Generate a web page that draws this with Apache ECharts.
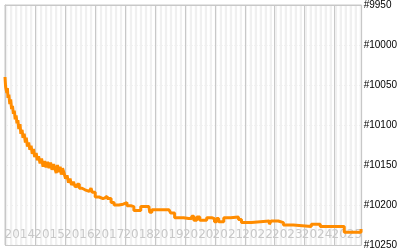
<!DOCTYPE html>
<html><head><meta charset="utf-8">
<script src="https://cdn.jsdelivr.net/npm/echarts@6/dist/echarts.min.js"></script>
<style>html,body{margin:0;padding:0;background:#fff}#c{width:400px;height:250px}</style>
</head><body><div id="c"></div>
<script>
var yearLabels = ['2014','2015','2016','2017','2018','2019','2020','2021','2022','2023','2024','2025'];
var rankTicks = [9950, 10000, 10050, 10100, 10150, 10200, 10250];
var dates = [2014.00,2014.02,2014.04,2014.06,2014.08,2014.10,2014.13,2014.16,2014.19,2014.22,2014.25,2014.28,2014.31,2014.34,
  2014.37,2014.40,2014.43,2014.46,2014.50,2014.53,2014.57,2014.60,2014.64,2014.68,2014.71,2014.75,2014.79,2014.83,2014.87,
  2014.91,2014.95,2014.99,
  2015.04,2015.08,2015.12,2015.17,2015.22,2015.27,2015.32,2015.37,2015.42,2015.47,2015.52,2015.57,2015.62,2015.67,2015.71,
  2015.75,2015.80,2015.84,2015.88,2015.92,2015.97,
  2016.02,2016.07,2016.12,2016.17,2016.22,2016.28,2016.34,2016.41,2016.48,2016.57,2016.67,2016.81,2016.87,2016.91,
  2017.01,2017.14,2017.27,2017.34,2017.41,2017.54,2017.64,2017.80,2017.94,
  2018.07,2018.20,2018.30,2018.53,2018.80,2018.83,2018.90,
  2019.30,2019.47,2019.53,2019.66,2019.96,
  2020.13,2020.23,2020.30,2020.40,2020.50,2020.63,2020.73,2020.90,2020.99,
  2021.06,2021.13,2021.30,2021.53,2021.79,2021.89,
  2022.22,2022.82,2022.88,2023.12,2023.29,2023.62,
  2024.22,2024.52,2025.32,2025.88,2025.90];
var ranks = [10040,10052,10050,10060,10054,10066,10062,10074,10068,10080,10076,10086,10082,10093,
  10088,10098,10094,10105,10099,10111,10106,10116,10111,10122,10116,10127,10122,10131,10126,
  10136,10130,10140,
  10135,10144,10139,10148,10142,10152,10145,10153,10146,10154,10147,10156,10149,10155,10160,
  10150,10159,10152,10162,10154,10160,
  10167,10163,10172,10167,10175,10171,10177,10174,10179,10181,10183,10184,10179,10184,
  10190,10192,10191,10189,10192,10197,10200,10199,10197,
  10201,10202,10207,10202,10202,10209,10206,
  10206,10207,10210,10216,10217,
  10217,10214,10219,10215,10219,10219,10216,10217,10221,
  10217,10221,10216,10215,10218,10222,
  10220,10224,10220,10222,10225,10227,
  10224,10227,10234,10230,10230];

var xMin = 2014, xMax = 2025.9;
var seriesData = dates.map(function(d, i){ return [d, ranks[i]]; });

var chart = echarts.init(document.getElementById('c'), null, {renderer:'canvas'});
chart.setOption({
  animation: false,
  grid: {left: 5, right: 35, top: 5, bottom: 5, containLabel: false, show:true,
    borderColor:'#c8c8c8', borderWidth:1, backgroundColor:'transparent'},
  xAxis: [
    {type:'value', min:0, max:(xMax-xMin)*12, interval:1, z:0,
     axisLine:{show:false}, axisTick:{show:false}, axisLabel:{show:false},
     splitLine:{show:false},
     splitArea:{show:true, areaStyle:{color:['#f0f0f0','#ffffff']}}},
    {type:'value', min:xMin, max:xMax, interval:1, z:1,
     axisLine:{show:true, lineStyle:{color:'#c8c8c8', width:1}}, axisTick:{show:false}, axisLabel:{show:false},
     splitLine:{show:true, lineStyle:{color:'#c8c8c8', width:1}}},
    {type:'category', data:yearLabels, boundaryGap:true, position:'bottom', z:1,
     axisLine:{show:false}, axisTick:{show:false}, splitLine:{show:false},
     axisLabel:{show:true, inside:true, interval:0, margin:4, color:'#c8c8c8', fontSize:12, fontFamily:'DejaVu Sans'}}
  ],
  yAxis: {type:'value', inverse:true, min:rankTicks[0], max:rankTicks[rankTicks.length-1], interval:50, position:'right',
    axisLine:{show:true, lineStyle:{color:'#c8c8c8'}}, axisTick:{show:false},
    splitLine:{show:true, lineStyle:{color:'#c8c8c8', width:1}},
    axisLabel:{show:true, margin:2, color:'#000', fontSize:10, fontFamily:'Liberation Sans',
      formatter:function(v){ return '#' + v; }}},
  series: [{type:'line', xAxisIndex:1, data:seriesData, step:'end', showSymbol:false,
    lineStyle:{color:'#ff8c00', width:3}, z:5}]
});
</script></body></html>
